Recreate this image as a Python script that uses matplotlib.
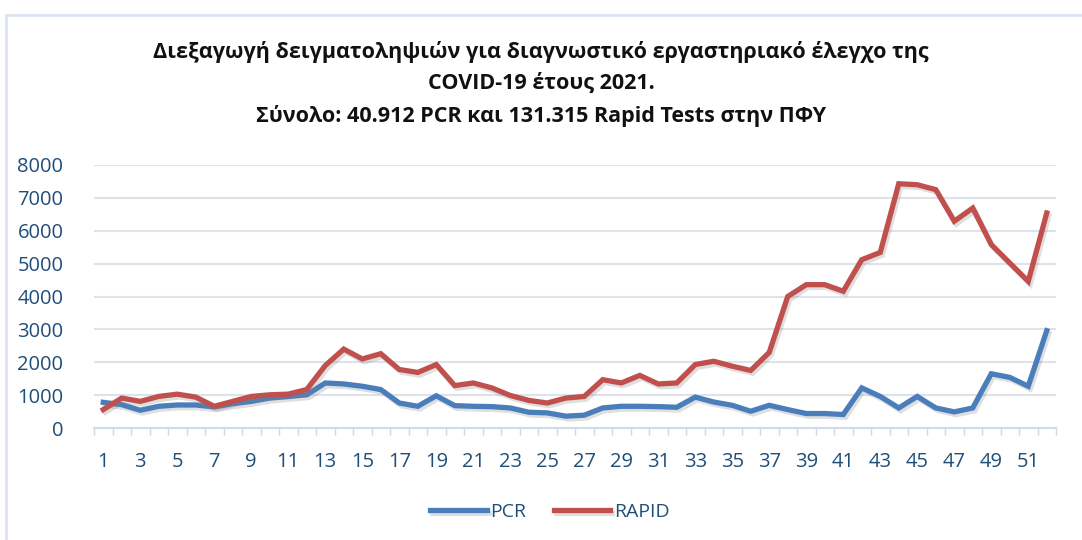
import matplotlib.pyplot as plt
import matplotlib.patheffects as pe
from matplotlib.lines import Line2D

# weekly samples, 2021
weeks = list(range(1, 53))
pcr = [780, 710, 540, 660, 700, 700, 640, 740, 810, 910, 960, 1010, 1370, 1340,
       1270, 1170, 760, 660, 980, 680, 660, 650, 610, 480, 460, 360, 390, 610,
       660, 660, 650, 630, 940, 790, 690, 510, 690, 560, 440, 440, 410, 1220,
       960, 610, 960, 610, 490, 610, 1650, 1540, 1270, 2960]
rapid = [560, 910, 810, 960, 1030, 940, 660, 810, 960, 1010, 1030, 1170, 1900, 2400,
         2100, 2260, 1780, 1690, 1930, 1290, 1370, 1220, 990, 840, 760, 910, 960, 1470,
         1370, 1600, 1340, 1370, 1930, 2030, 1880, 1750, 2300, 4000, 4360, 4360, 4160, 5120,
         5340, 7430, 7400, 7250, 6290, 6690, 5580, 5020, 4460, 6540]
xticks = list(range(1, 53, 2))
yticks = list(range(0, 8001, 1000))

title = ("Διεξαγωγή δειγματοληψιών για διαγνωστικό εργαστηριακό έλεγχο της\n"
         "COVID-19 έτους 2021.\n"
         "Σύνολο: 40.912 PCR και 131.315 Rapid Tests στην ΠΦΥ")

blue = '#4A7EBB'
red = '#C0504D'
txt = '#1F4E79'
plt.rcParams['font.family'] = ['Open Sans', 'DejaVu Sans']

fig = plt.figure(figsize=(10.82, 5.4), dpi=100)
ax = fig.add_axes([94 / 1082, 1 - 428 / 540, (1056 - 94) / 1082, (428 - 165) / 540])

# chart border
fig.add_artist(Line2D([6 / 1082, 6 / 1082], [0, 1 - 15 / 540], transform=fig.transFigure,
                      color='#DAE5F1', lw=2))
fig.add_artist(Line2D([6 / 1082, 1], [1 - 15 / 540, 1 - 15 / 540], transform=fig.transFigure,
                      color='#DAE5F1', lw=2))

shadow = [pe.SimpleLineShadow(offset=(1.5, -2), shadow_color='gray', alpha=0.25), pe.Normal()]
ax.plot(weeks, pcr, color=blue, lw=3.8, solid_joinstyle='miter', label='PCR',
        path_effects=shadow, zorder=3)
ax.plot(weeks, rapid, color=red, lw=3.8, solid_joinstyle='miter', label='RAPID',
        path_effects=shadow, zorder=4)

ax.set_xlim(0.5, 52.5)
ax.set_ylim(0, 8000)
ax.set_yticks(yticks)
ax.set_xticks(xticks)
ax.set_xticks([w + 0.5 for w in range(0, 53)], minor=True)
ax.tick_params(axis='x', which='major', length=0, pad=17, labelsize=14.5, labelcolor=txt)
ax.tick_params(axis='x', which='minor', length=5, width=1, color='#C9D8EA')
ax.tick_params(axis='y', length=0, pad=22, labelsize=14.5, labelcolor=txt)
for t in ax.get_yticklabels():
    t.set_horizontalalignment('right')
ax.grid(axis='y', color='#DCE3EA', lw=1.5, zorder=0)
for s in ['top', 'right', 'left']:
    ax.spines[s].set_visible(False)
ax.spines['bottom'].set_color('#D0DCEB')
ax.spines['bottom'].set_linewidth(1.5)

fig.text(0.5, 1 - 84 / 540, title, ha='center', va='center', fontsize=15.5,
         fontweight='bold', color='#111111', linespacing=1.62)

ax.legend(loc='center', bbox_to_anchor=(0.474, (428 - 512) / 263), ncol=2, frameon=False,
          fontsize=14, labelcolor=txt, handlelength=2.9, handletextpad=0.2,
          columnspacing=1.4)

fig.savefig('out.png', dpi=100)
